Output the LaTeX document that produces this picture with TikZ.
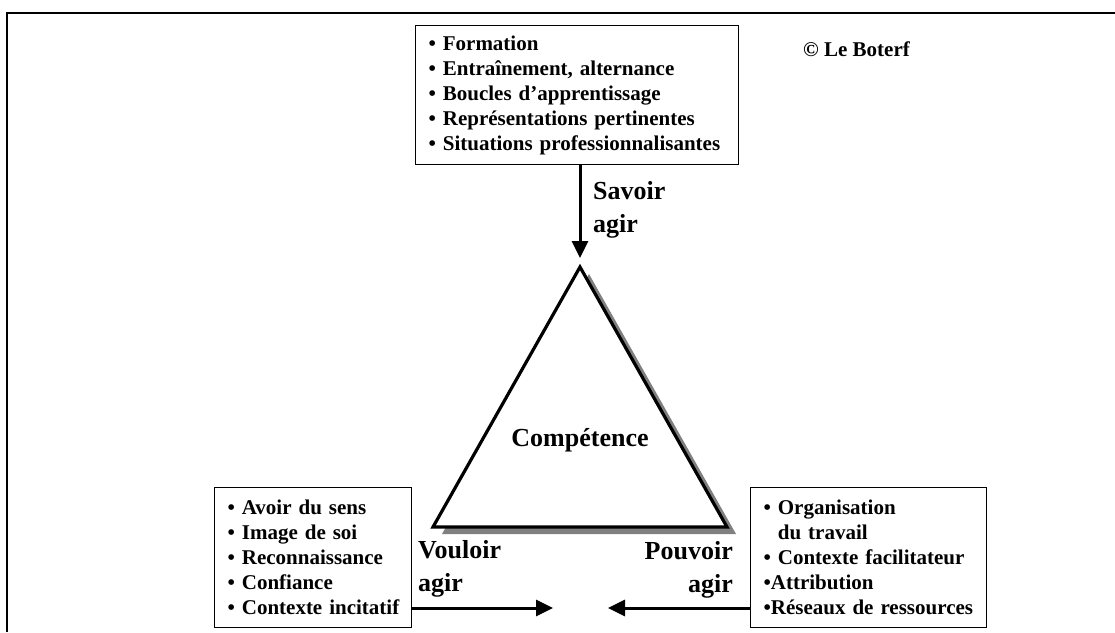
\documentclass[tikz,border=0pt]{standalone}
\usepackage{fontspec}
\setmainfont{Liberation Serif}
\usetikzlibrary{arrows.meta}
\definecolor{shadowgray}{HTML}{808080}
\begin{document}
\begin{tikzpicture}[x=1pt,y=-1pt,
  listbox/.style={draw, line width=1pt, fill=white, align=left, anchor=north west,
    inner xsep=13pt, inner ysep=0pt, font=\fontsize{21}{25}\selectfont\bfseries},
  biglabel/.style={font=\fontsize{26}{33}\selectfont\bfseries, inner sep=0pt},
  flow/.style={line width=3pt, -{Triangle[width=16pt,length=17pt]}},
  frame/.style={line width=2.5pt}]
\useasboundingbox (0,0) rectangle (1115,632);
% frame (top and left edges)
\draw[frame] (7,632) -- (7,13) -- (1115,13);
% triangle with shadow
\coordinate (A) at (580,267);
\coordinate (B) at (433,527);
\coordinate (C) at (727,527);
\fill[shadowgray] ([xshift=9pt,yshift=-7pt]A) -- ([xshift=9pt,yshift=-7pt]B) -- ([xshift=9pt,yshift=-7pt]C) -- cycle;
\draw[line width=3.2pt, line join=miter, fill=white] (A) -- (B) -- (C) -- cycle;
\node[biglabel, anchor=base] (comp) at (580,446) {Compétence};
% boxes
\node[listbox, text width=297pt, minimum height=139pt] (top) at (415,25) {%
\mbox{• Formation}\\
\mbox{• Entraînement, alternance}\\
\mbox{• Boucles d’apprentissage}\\
\mbox{• Représentations pertinentes}\\
\mbox{• Situations professionnalisantes}};
\node[listbox, text width=171pt, minimum height=140pt] (left) at (214,487) {%
\mbox{• Avoir du sens}\\
\mbox{• Image de soi}\\
\mbox{• Reconnaissance}\\
\mbox{• Confiance}\\
\mbox{• Contexte incitatif}};
\node[listbox, text width=210pt, minimum height=140pt] (right) at (750,487) {%
\mbox{• Organisation}\\
\mbox{\phantom{• }du travail}\\
\mbox{• Contexte facilitateur}\\
\mbox{•Attribution}\\
\mbox{•Réseaux de ressources}};
% copyright
\node[font=\fontsize{21}{25}\selectfont\bfseries, inner sep=0pt, anchor=base west] (copy) at (803,56) {© Le Boterf};
% labels
\node[biglabel, align=left, anchor=north west] (savoir) at (593,181) {Savoir\\agir};
\node[biglabel, align=left, anchor=north west] (vouloir) at (418,540) {Vouloir\\agir};
\node[biglabel, align=right, anchor=north east] (pouvoir) at (733,541) {Pouvoir\\agir};
% arrows
\coordinate (sa) at (580,258);
\coordinate (va) at (553,608);
\coordinate (pa) at (608,608);
\draw[flow] (top.south -| sa) -- (sa);
\draw[flow] (left.east |- va) -- (va);
\draw[flow] (right.west |- pa) -- (pa);
\end{tikzpicture}
\end{document}
